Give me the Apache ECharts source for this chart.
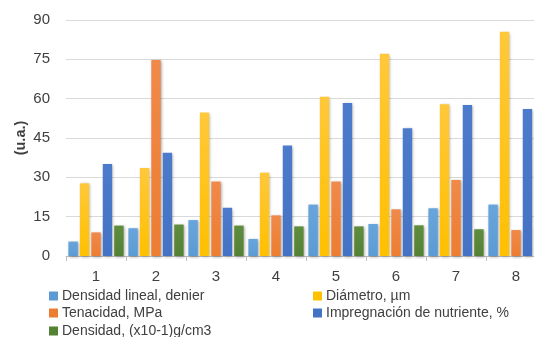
<!DOCTYPE html>
<html>
<head>
<meta charset="utf-8">
<script src="https://cdn.jsdelivr.net/npm/echarts@6/dist/echarts.min.js"></script>
<style>
  html, body { margin: 0; padding: 0; background: #fff; }
  #chart { width: 534px; height: 337px; }
</style>
</head>
<body>
<div id="chart"></div>
<script>
// Muestras 1..8
const categories = ['1', '2', '3', '4', '5', '6', '7', '8'];

const seriesNames = [
  'Densidad lineal, denier',
  'Diámetro, µm',
  'Tenacidad, MPa',
  'Impregnación de nutriente, %',
  'Densidad, (x10-1)g/cm3'
];

const densidadLineal = [5.5, 10.6, 13.7, 6.5, 19.6, 12.2, 18.2, 19.6];
const diametro       = [27.7, 33.6, 54.7, 31.8, 60.7, 77.1, 57.9, 85.5];
const tenacidad      = [9.0, 74.7, 28.4, 15.5, 28.4, 17.8, 29.0, 9.9];
const impregnacion   = [35.1, 39.4, 18.4, 42.1, 58.3, 48.7, 57.6, 56.1];
const densidad       = [11.6, 12.0, 11.6, 11.3, 11.3, 11.7, 10.2, 11.0];

const yTicks = [0, 15, 30, 45, 60, 75, 90];

const colors = ['#5B9BD5', '#FFC000', '#ED7D31', '#4472C4', '#548235'];
const lightTops = ['#68A5DC', '#FFC83A', '#F0894A', '#4C7BCB', '#5E8D3D'];
const values = [densidadLineal, diametro, tenacidad, impregnacion, densidad];

const FONT = 'Liberation Sans';

const chart = echarts.init(document.getElementById('chart'), null, { renderer: 'canvas' });

const series = seriesNames.map((name, i) => ({
  name: name,
  type: 'bar',
  data: values[i],
  barGap: '22%',
  barCategoryGap: '8%',
  itemStyle: {
    color: new echarts.graphic.LinearGradient(0, 0, 0, 1, [
      { offset: 0, color: lightTops[i] },
      { offset: 1, color: colors[i] }
    ]),
    shadowColor: 'rgba(0,0,0,0.35)',
    shadowBlur: 3,
    shadowOffsetX: 1,
    shadowOffsetY: 1
  }
}));

// one legend block per entry, laid out in two columns
const legendPos = [
  { left: 49, top: 289 },
  { left: 313, top: 289 },
  { left: 49, top: 306 },
  { left: 313, top: 306 },
  { left: 49, top: 324 }
];
const legends = seriesNames.map((name, i) => ({
  data: [{ name: name, itemStyle: { color: colors[i] } }],
  left: legendPos[i].left,
  top: legendPos[i].top,
  icon: 'rect',
  itemWidth: 9,
  itemHeight: 9,
  itemGap: 0,
  padding: 0,
  textStyle: { fontFamily: FONT, fontSize: 14, color: '#404040', padding: [0, 0, 0, -1] },
  selectedMode: false
}));

chart.setOption({
  animation: false,
  color: colors,
  legend: legends,
  // the plot runs past the right edge of the canvas
  grid: { left: 66, width: 480, top: 20, height: 236, containLabel: false, outerBoundsMode: 'none' },
  xAxis: {
    type: 'category',
    data: categories,
    axisLine: { show: true, lineStyle: { color: '#BFBFBF', width: 1 } },
    axisTick: { show: true, alignWithLabel: false, length: 5, lineStyle: { color: '#BFBFBF' } },
    axisLabel: { fontFamily: FONT, fontSize: 15, color: '#404040', margin: 13 }
  },
  yAxis: {
    type: 'value',
    min: 0,
    max: 90,
    interval: 15,
    name: '(u.a.)',
    nameLocation: 'middle',
    nameRotate: 90,
    nameGap: 38,
    nameMoveOverlap: false,
    nameTextStyle: { fontFamily: FONT, fontSize: 14.5, fontWeight: 'bold', color: '#404040' },
    axisLine: { show: false },
    axisTick: { show: false },
    axisLabel: {
      fontFamily: FONT, fontSize: 15, color: '#404040', margin: 16,
      formatter: v => (yTicks.includes(v) ? String(v) : '')
    },
    splitLine: { lineStyle: { color: '#D9D9D9', width: 1 } }
  },
  series: series
});
</script>
</body>
</html>
